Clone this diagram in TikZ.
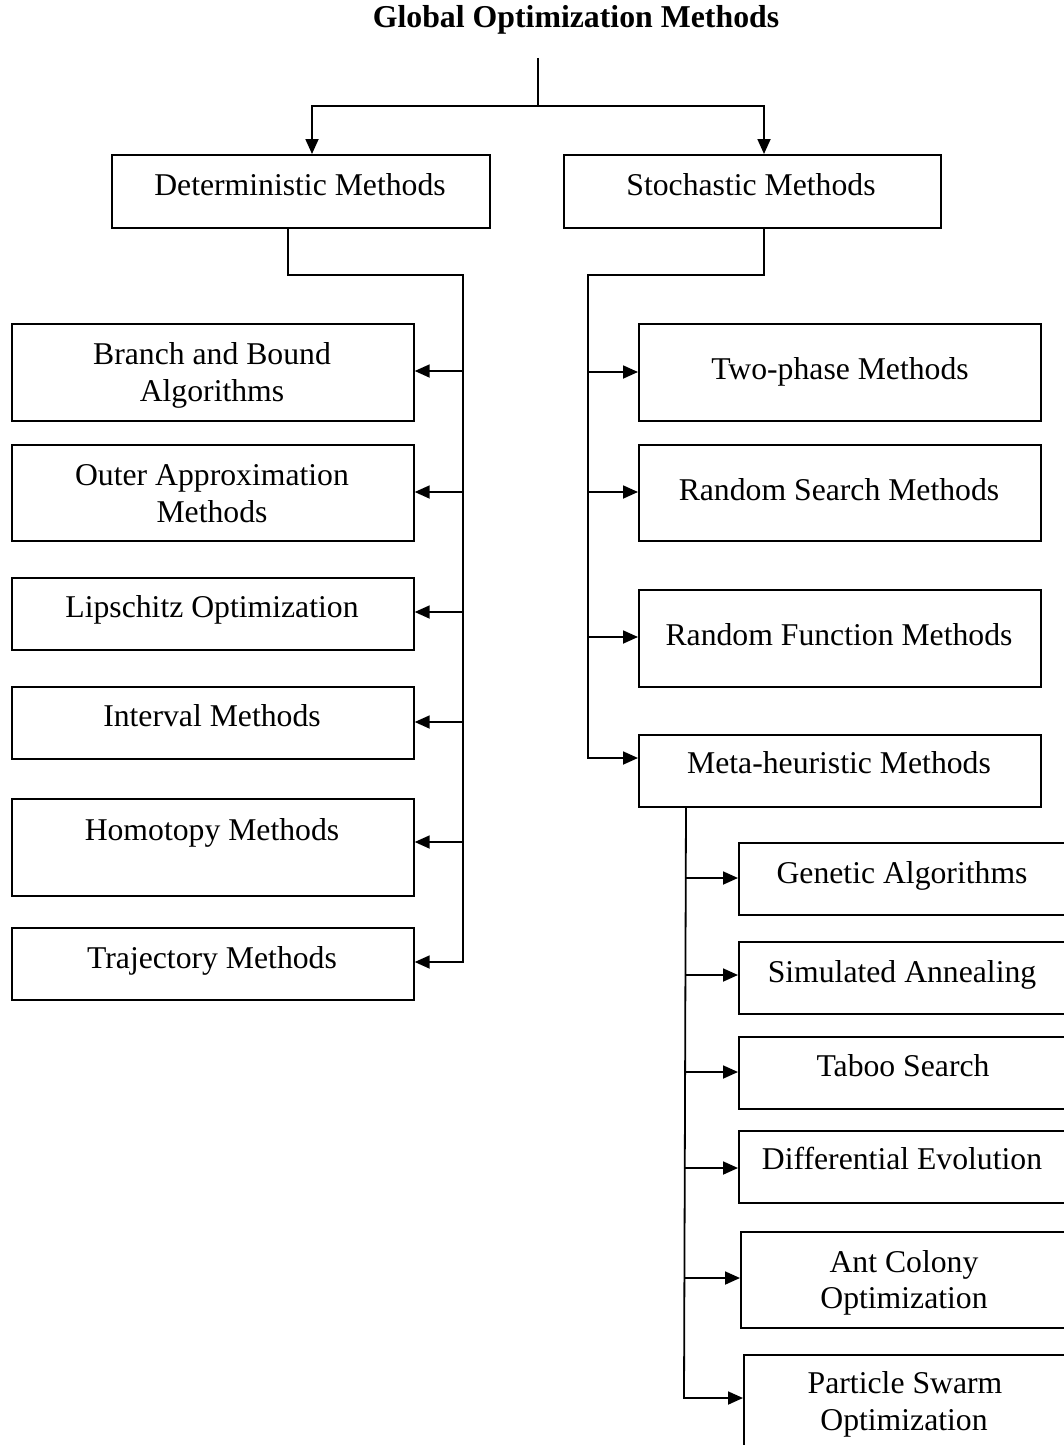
\documentclass[tikz,border=0pt]{standalone}
\usepackage{fontspec}
\setmainfont{Liberation Serif}
\usetikzlibrary{arrows.meta}
\begin{document}
\begin{tikzpicture}[x=1pt,y=-1pt,
  box/.style={draw,line width=1.7pt,inner sep=0pt,anchor=north west},
  lbl/.style={inner sep=0pt,anchor=base,font=\fontsize{31.7}{37}\selectfont},
  link/.style={line width=1.8pt},
  arr/.style={link,-{Triangle[length=15pt,width=13pt]}}]
\useasboundingbox (0,0) rectangle (1064,1445);
\clip (0,0) rectangle (1064,1445);

% title
\node[lbl,font=\fontsize{31.8}{37}\selectfont\bfseries] (title) at (576,28) {Global Optimization Methods};

% first level
\node[box,minimum width=378pt,minimum height=73pt] (det) at (111,154) {};
\node[box,minimum width=377pt,minimum height=73pt] (sto) at (563,154) {};
\node[lbl] (det-t) at (300,195) {Deterministic Methods};
\node[lbl] (sto-t) at (751,195) {Stochastic Methods};

% deterministic branch
\node[box,minimum width=402pt,minimum height=97pt] (bb) at (11,323) {};
\node[box,minimum width=402pt,minimum height=96pt] (oa) at (11,444) {};
\node[box,minimum width=402pt,minimum height=72pt] (lo) at (11,577) {};
\node[box,minimum width=402pt,minimum height=72pt] (im) at (11,686) {};
\node[box,minimum width=402pt,minimum height=97pt] (hm) at (11,798) {};
\node[box,minimum width=402pt,minimum height=72pt] (tm) at (11,927) {};
\node[lbl] (bb-1) at (212,364) {Branch and Bound};
\node[lbl] (bb-2) at (212,401) {Algorithms};
\node[lbl] (oa-1) at (212,485) {Outer Approximation};
\node[lbl] (oa-2) at (212,522) {Methods};
\node[lbl] (lo-t) at (212,617) {Lipschitz Optimization};
\node[lbl] (im-t) at (212,726) {Interval Methods};
\node[lbl] (hm-t) at (212,840) {Homotopy Methods};
\node[lbl] (tm-t) at (212,968) {Trajectory Methods};

% stochastic branch
\node[box,minimum width=402pt,minimum height=97pt] (tp) at (638,323) {};
\node[box,minimum width=402pt,minimum height=96pt] (rs) at (638,444) {};
\node[box,minimum width=402pt,minimum height=97pt] (rf) at (638,589) {};
\node[box,minimum width=402pt,minimum height=72pt] (mh) at (638,734) {};
\node[lbl] (tp-t) at (840,379) {Two-phase Methods};
\node[lbl] (rs-t) at (839,500) {Random Search Methods};
\node[lbl] (rf-t) at (839,645) {Random Function Methods};
\node[lbl] (mh-t) at (839,773) {Meta-heuristic Methods};

% meta-heuristic branch
\node[box,minimum width=330pt,minimum height=72pt] (ga) at (738,842) {};
\node[box,minimum width=330pt,minimum height=72pt] (sa) at (738,941) {};
\node[box,minimum width=330pt,minimum height=72pt] (ts) at (738,1036) {};
\node[box,minimum width=330pt,minimum height=72pt] (de) at (738,1130) {};
\node[box,minimum width=330pt,minimum height=96pt] (ac) at (740,1231) {};
\node[box,minimum width=330pt,minimum height=120pt] (ps) at (743,1354) {};
\node[lbl] (ga-t) at (902,883) {Genetic Algorithms};
\node[lbl] (sa-t) at (902,982) {Simulated Annealing};
\node[lbl] (ts-t) at (903,1076) {Taboo Search};
\node[lbl] (de-t) at (902,1169) {Differential Evolution};
\node[lbl] (ac-1) at (904,1272) {Ant Colony};
\node[lbl] (ac-2) at (904,1308) {Optimization};
\node[lbl] (ps-1) at (905,1393) {Particle Swarm};
\node[lbl] (ps-2) at (904,1430) {Optimization};

% junction points
\coordinate (root) at (538,58);
\coordinate (fork) at (538,106);
\coordinate (forkL) at (312,106);
\coordinate (forkR) at (764,106);
\coordinate (dA) at (288,275);
\coordinate (dB) at (463,275);
\coordinate (dT) at (463,962);
\coordinate (sA) at (764,275);
\coordinate (sB) at (588,275);
\coordinate (sT) at (588,758);
\coordinate (mA) at (686,806);
\coordinate (mT) at (684,1398);

% top split
\draw[link] (root) -- (fork);
\draw[arr] (fork) -- (forkL) -- (forkL |- det.north);
\draw[arr] (fork) -- (forkR) -- (forkR |- sto.north);

% deterministic connectors
\draw[arr] (det.south -| dA) -- (dA) -- (dB) -- (dT) -- (tm.east |- dT);
\foreach \n/\y in {bb/371,oa/492,lo/612,im/722,hm/842}
  \draw[arr] (463,\y) -- (\n.east |- 0,\y);

% stochastic connectors
\draw[arr] (sto.south -| sA) -- (sA) -- (sB) -- (sT) -- (mh.west |- sT);
\foreach \n/\y in {tp/372,rs/492,rf/637}
  \draw[arr] (588,\y) -- (\n.west |- 0,\y);

% meta-heuristic connectors
\draw[arr] (mA) -- (mT) -- (ps.west |- mT);
\foreach \n/\y in {ga/878,sa/975,ts/1072,de/1168,ac/1278}
  \draw[arr] (685,\y) -- (\n.west |- 0,\y);
\end{tikzpicture}
\end{document}
